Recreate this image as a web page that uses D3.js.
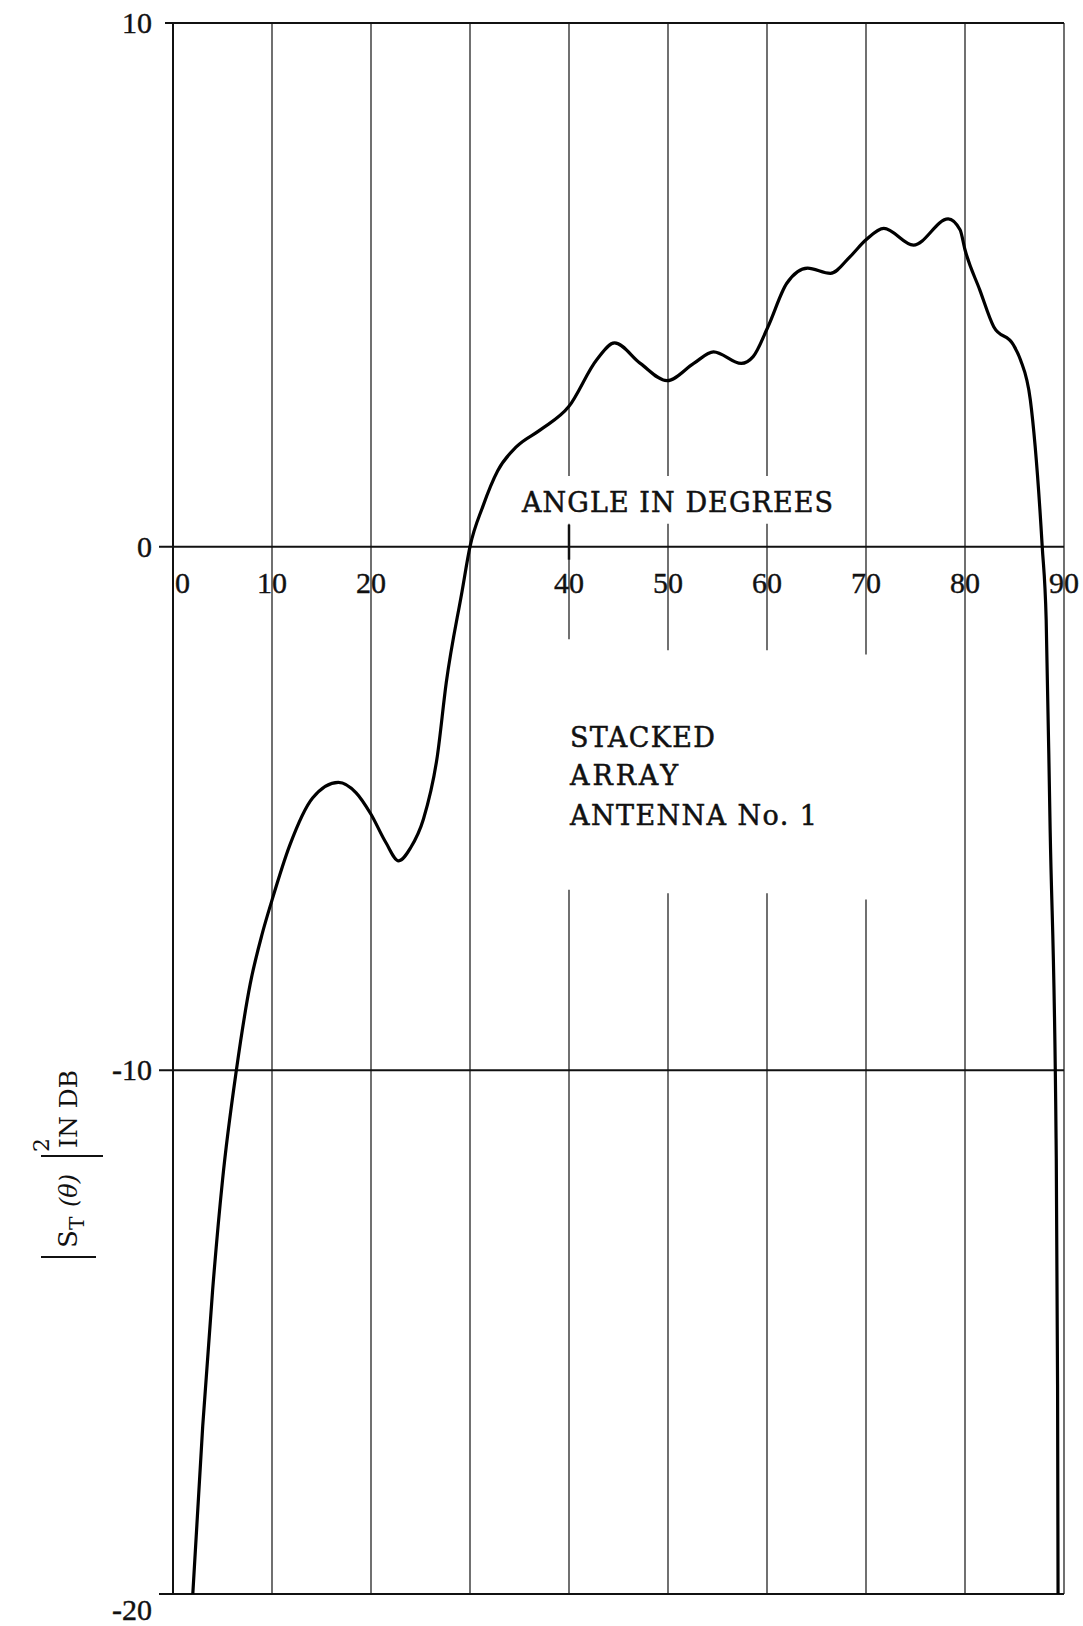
<!DOCTYPE html>
<html>
<head>
<meta charset="utf-8">
<script src="https://cdn.jsdelivr.net/npm/d3@7"></script>
<style>
  html, body { margin: 0; padding: 0; background: #fff; }
  svg { display: block; }
</style>
</head>
<body>
<svg id="chart"></svg>
<script>
const width = 1083;
const height = 1626;

// angle (degrees) and |S_T(θ)|² (dB)
const angleDeg = [2.0, 3.0, 4.0, 5.0, 6.4, 7.8, 9.0, 10.0, 11.8, 14.1, 16.7, 18.5, 20.0, 21.5, 22.8, 24.0, 25.3,
    26.7, 27.6, 29.2, 30.0, 31.3, 32.8, 34.7, 37.1, 40.0, 42.8, 44.6, 47.2, 49.9, 52.6, 54.6, 57.4,
    58.6, 60.1, 62.0, 64.1, 66.4, 68.4, 70.0, 71.8, 74.8, 78.3, 79.5, 80.0, 81.5, 82.9, 84.9, 85.6,
    86.6, 87.8, 88.2, 88.6, 89.2, 89.35, 89.4];
const gainDb = [-20, -16.8, -14.2, -12.1, -10.0, -8.35, -7.4, -6.75, -5.7, -4.8, -4.5, -4.7, -5.11, -5.65, -6.0, -5.75, -5.2,
    -4.0, -2.6, -0.85, 0, 0.77, 1.45, 1.91, 2.23, 2.68, 3.57, 3.89, 3.5, 3.17, 3.5, 3.72, 3.5,
    3.63, 4.2, 5.03, 5.32, 5.22, 5.54, 5.86, 6.08, 5.76, 6.26, 6.05, 5.67, 4.9, 4.2, 3.85, 3.57,
    2.8, 0, -1.4, -5.4, -11.3, -16, -20];

const xTicks = [0, 10, 20, 30, 40, 50, 60, 70, 80, 90];
const yTicks = [10, 0, -10, -20];

const svg = d3.select("#chart")
    .attr("width", width)
    .attr("height", height)
    .attr("viewBox", `0 0 ${width} ${height}`);

const x = d3.scaleLinear().domain([0, 90]).range([173, 1064]);
const y = d3.scaleLinear().domain([-20, 10]).range([1594, 23]);

const ink = "#111";
const numFont = "'Liberation Serif', 'Times New Roman', serif";
const textFont = "'DejaVu Serif', serif";

// vertical grid lines, broken where the hand lettering sits (dB spans)
const gaps = {
    40: [[0.44, 1.35], [-6.55, -1.77]],
    50: [[0.44, 1.35], [-6.62, -1.98]],
    60: [[0.44, 1.35], [-6.62, -1.98]],
    70: [[-6.74, -2.06]]
};

const grid = svg.append("g").attr("class", "grid");
xTicks.filter(d => d > 0).forEach(t => {
    const cuts = (gaps[t] || []).slice().sort((a, b) => b[1] - a[1]);
    let top = 10;
    const segs = [];
    cuts.forEach(([lo, hi]) => {
        segs.push([hi, top]);
        top = lo;
    });
    segs.push([-20, top]);
    segs.forEach(([a, b]) => {
        grid.append("line")
            .attr("x1", x(t)).attr("x2", x(t))
            .attr("y1", y(b)).attr("y2", y(a))
            .attr("stroke", ink)
            .attr("stroke-width", 1.2);
    });
});

// horizontal rules at the labelled dB levels
svg.append("g")
    .selectAll("line")
    .data(yTicks)
    .join("line")
    .attr("x1", d => d === 10 ? 165 : 159)
    .attr("x2", x(90))
    .attr("y1", d => y(d))
    .attr("y2", d => y(d))
    .attr("stroke", ink)
    .attr("stroke-width", 2);

// left axis
svg.append("line")
    .attr("x1", x(0)).attr("x2", x(0))
    .attr("y1", y(10)).attr("y2", y(-20))
    .attr("stroke", ink)
    .attr("stroke-width", 2);

// heavy tick at 40 on the zero line
svg.append("line")
    .attr("x1", x(40)).attr("x2", x(40))
    .attr("y1", y(0) - 22).attr("y2", y(0) + 13)
    .attr("stroke", ink)
    .attr("stroke-width", 2.5);

// y labels
svg.append("g")
    .selectAll("text")
    .data(yTicks)
    .join("text")
    .attr("x", 152)
    .attr("y", d => d === -20 ? y(d) + 26 : y(d) + 10)
    .attr("text-anchor", "end")
    .attr("font-family", numFont)
    .attr("font-size", 30)
    .attr("fill", ink)
    .attr("stroke", ink)
    .attr("stroke-width", 0.4)
    .text(d => d < 0 ? "-" + Math.abs(d) : d);

// x labels under the zero line
svg.append("g")
    .selectAll("text")
    .data(xTicks.filter(d => d !== 30))
    .join("text")
    .attr("x", d => d === 0 ? x(d) + 2 : x(d))
    .attr("y", y(0) + 46)
    .attr("text-anchor", d => d === 0 ? "start" : "middle")
    .attr("font-family", numFont)
    .attr("font-size", 30)
    .attr("fill", ink)
    .attr("stroke", ink)
    .attr("stroke-width", 0.4)
    .text(d => d);

// curve
svg.append("clipPath").attr("id", "plot-clip")
    .append("rect")
    .attr("x", x(0)).attr("y", y(10))
    .attr("width", x(90) - x(0)).attr("height", y(-20) - y(10));

const line = d3.line()
    .x((d, i) => x(angleDeg[i]))
    .y(d => y(d))
    .curve(d3.curveMonotoneX);

svg.append("path")
    .datum(gainDb)
    .attr("d", line)
    .attr("fill", "none")
    .attr("stroke", "#000")
    .attr("stroke-width", 3.2)
    .attr("stroke-linejoin", "round")
    .attr("clip-path", "url(#plot-clip)");

// lettering
svg.append("text")
    .attr("x", 522)
    .attr("y", 512)
    .attr("font-family", textFont)
    .attr("font-size", 27)
    .attr("textLength", 311)
    .attr("lengthAdjust", "spacing")
    .attr("fill", ink)
    .attr("stroke", ink)
    .attr("stroke-width", 0.5)
    .text("ANGLE IN DEGREES");

const note = [["STACKED", 747, 145], ["ARRAY", 785, 108], ["ANTENNA No. 1", 825, 247]];
svg.append("g")
    .selectAll("text")
    .data(note)
    .join("text")
    .attr("x", 570)
    .attr("y", d => d[1])
    .attr("textLength", d => d[2])
    .attr("lengthAdjust", "spacing")
    .attr("font-family", textFont)
    .attr("font-size", 27)
    .attr("fill", ink)
    .attr("stroke", ink)
    .attr("stroke-width", 0.5)
    .text(d => d[0]);

// rotated y axis title: |S_T(θ)|² IN DB
const yTitle = svg.append("g")
    .attr("transform", "translate(77,1262) rotate(-90)");

yTitle.append("line")
    .attr("x1", 5).attr("x2", 5)
    .attr("y1", -36).attr("y2", 19)
    .attr("stroke", ink).attr("stroke-width", 2);
yTitle.append("text")
    .attr("x", 14).attr("y", 0)
    .attr("font-family", textFont)
    .attr("font-size", 26)
    .attr("fill", ink)
    .text("S");
yTitle.append("text")
    .attr("x", 32).attr("y", 7)
    .attr("font-family", textFont)
    .attr("font-size", 20)
    .attr("fill", ink)
    .text("T");
yTitle.append("text")
    .attr("x", 55).attr("y", 0)
    .attr("font-family", textFont)
    .attr("font-size", 24)
    .attr("font-style", "italic")
    .attr("fill", ink)
    .text("(θ)");
yTitle.append("line")
    .attr("x1", 106).attr("x2", 106)
    .attr("y1", -36).attr("y2", 26)
    .attr("stroke", ink).attr("stroke-width", 2);
yTitle.append("text")
    .attr("x", 110).attr("y", -28)
    .attr("font-family", textFont)
    .attr("font-size", 22)
    .attr("fill", ink)
    .text("2");
yTitle.append("text")
    .attr("x", 114).attr("y", 0)
    .attr("font-family", textFont)
    .attr("font-size", 25)
    .attr("fill", ink)
    .text("IN DB");
</script>
</body>
</html>
